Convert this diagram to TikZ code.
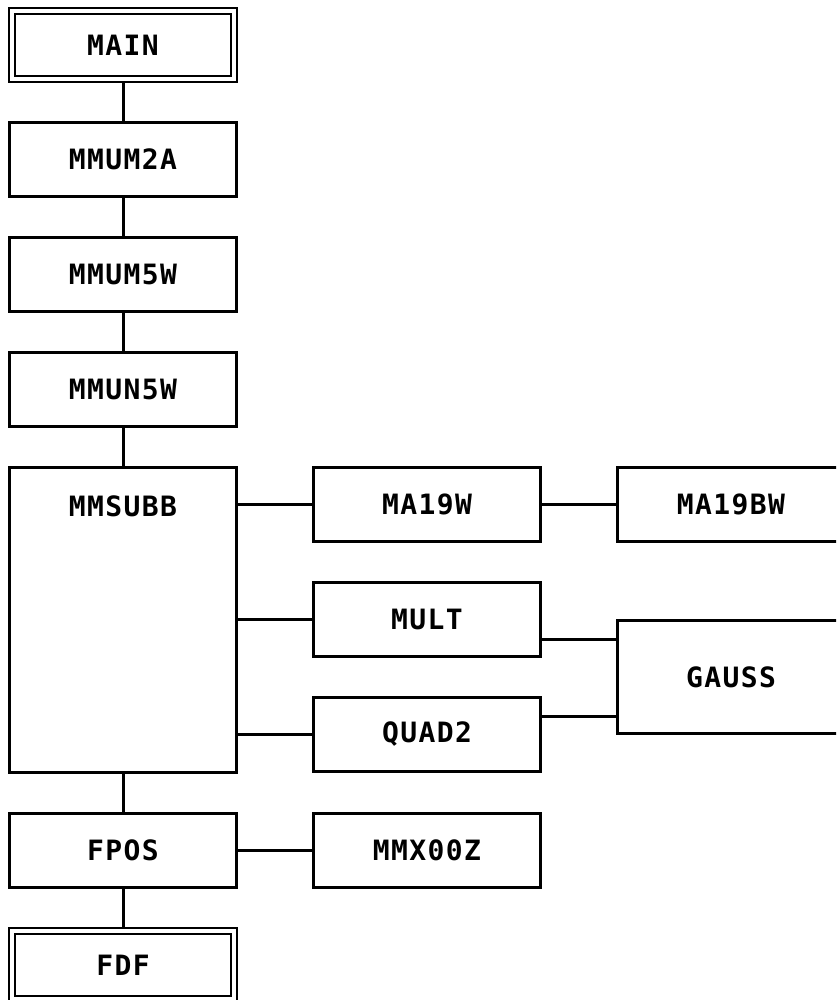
\documentclass[tikz,border=0pt]{standalone}
\usepackage{fontspec}
\newfontfamily\plotfont[LetterSpace=5]{DejaVu Sans Mono}
\usetikzlibrary{positioning,calc}
\tikzset{
  box-font/.style={font=\plotfont\bfseries\fontsize{28}{32}\selectfont},
  box/.style={draw,line width=3pt,minimum width=227pt,minimum height=74pt,
    inner sep=0pt,box-font},
  box-end/.style={double,line width=2.2pt,double distance=3.8pt,
    minimum width=222pt,minimum height=68pt,outer sep=4pt},
  box-tall/.style={minimum height=305pt},
  box-gauss/.style={minimum height=113pt},
  link/.style={line width=3pt},
}
\begin{document}
\begin{tikzpicture}[x=1pt,y=-1pt,node distance=38pt and 74pt]
  \useasboundingbox (0,0) rectangle (836,1000);
  \clip (0,0) rectangle (836,1000);
  % main chain
  \node[box,box-end]             (main)   at (123,45) {MAIN};
  \node[box,below=of main]       (mmum2a) {MMUM2A};
  \node[box,below=of mmum2a]     (mmum5w) {MMUM5W};
  \node[box,below=of mmum5w]     (mmun5w) {MMUN5W};
  \node[box,box-tall,below=of mmun5w,
    label={[box-font,anchor=center,yshift=-40pt]north:MMSUBB}] (mmsubb) {};
  \node[box,below=of mmsubb]     (fpos)   {FPOS};
  \node[box,box-end,below=of fpos] (fdf)  {FDF};
  % called from MMSUBB
  \node[box,right=of mmsubb.north east,anchor=north west] (ma19w) {MA19W};
  \node[box,below=of ma19w]      (mult)   {MULT};
  \node[box,below=of mult]       (quad2)  {QUAD2};
  \node[box,right=of ma19w]      (ma19bw) {MA19BW};
  \coordinate (mid) at ($(mult.east)!.5!(quad2.east)$);
  \node[box,box-gauss,right=of mid] (gauss) {GAUSS};
  \node[box,right=of fpos]       (mmx00z) {MMX00Z};
  % links
  \draw[link] (main)   -- (mmum2a);
  \draw[link] (mmum2a) -- (mmum5w);
  \draw[link] (mmum5w) -- (mmun5w);
  \draw[link] (mmun5w) -- (mmsubb);
  \draw[link] (mmsubb) -- (fpos);
  \draw[link] (fpos)   -- (fdf);
  \foreach \n in {ma19w,mult,quad2}
    \draw[link] (\n.west -| mmsubb.east) -- (\n.west);
  \draw[link] (ma19w) -- (ma19bw);
  \draw[link] (fpos)  -- (mmx00z);
  \coordinate (gin1) at ($(gauss.north west)+(0,20)$);
  \coordinate (gin2) at ($(gauss.south west)+(0,-19)$);
  \draw[link] (gin1 -| mult.east)  -- (gin1);
  \draw[link] (gin2 -| quad2.east) -- (gin2);
\end{tikzpicture}
\end{document}
